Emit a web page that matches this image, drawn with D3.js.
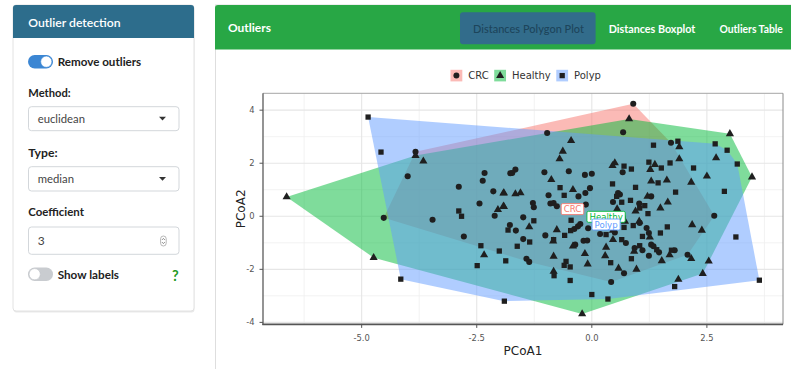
<!DOCTYPE html>
<html><head><meta charset="utf-8">
<script src="https://cdn.jsdelivr.net/npm/d3@7/dist/d3.min.js"></script>
<style>html,body{margin:0;padding:0;background:#fff;overflow:hidden}svg{display:block}</style>
</head><body><svg id="c" width="791" height="369"></svg>
<script>
// ---------- data ----------
const categories = ["CRC", "Healthy", "Polyp"];
const crcPoints = [
 [-3.83,2.43],[-4.00,1.51],[-4.52,-0.06],[-2.33,1.63],[-2.37,1.34],[-2.14,0.94],[-2.89,1.11],[-2.44,0.48],
 [-2.11,0.02],[-3.46,-0.13],[-2.78,-0.76],[-1.77,1.62],[-1.78,-0.33],[-0.97,3.14],[-1.66,1.76],[-1.73,1.63],
 [-1.03,1.66],[-0.50,1.70],[-0.15,1.56],[0.00,1.60],[-0.04,1.06],[-0.14,0.88],[-0.94,0.79],[-0.29,0.75],
 [-0.90,0.48],[-1.28,0.50],[-1.26,0.34],[-0.83,0.50],[-0.76,0.38],[-0.13,0.44],[-1.49,-0.04],[-1.65,-0.54],
 [-0.38,-0.48],[-0.30,-0.38],[-0.25,-0.29],[-0.08,-0.45],[-1.01,-0.72],[-1.49,-0.86],[-0.18,-0.92],[-0.10,-0.91],
 [-0.36,-1.07],[-1.42,-1.60],[-1.36,-1.72],[0.42,-2.48],[0.70,-2.15],[0.90,4.24],[0.68,3.17],[1.72,2.77],
 [0.67,1.66],[0.57,0.88],[0.61,0.82],[1.29,0.75],[0.46,0.54],[1.03,0.48],[0.67,-0.03],[1.04,-0.25],
 [1.19,-0.44],[1.24,-0.63],[0.50,-0.61],[0.18,-0.67],[0.74,-1.01],[1.29,-1.07],[1.34,-1.13],[0.93,-1.20],
 [1.10,-1.28],[1.46,-1.36],[1.80,-1.28],[1.24,-1.49],[2.08,-1.45],[2.66,0.02]
];
const healthyPoints = [
 [-6.63,0.73],[-4.74,-1.56],[-3.83,2.29],[-3.66,2.08],[-2.04,0.25],[-2.34,-1.46],[-1.92,0.87],[-1.91,0.36],
 [-0.45,2.85],[-0.63,2.45],[-0.70,2.16],[-0.88,1.38],[-0.41,1.00],[-1.91,0.88],[-1.66,0.84],[-1.55,0.88],
 [-1.92,0.38],[-1.36,-0.40],[-0.76,-0.51],[-0.84,-0.94],[-0.41,-1.13],[-0.15,-1.41],[-0.83,-1.51],[-0.09,-1.80],
 [-0.83,-2.08],[-0.21,-3.68],[0.58,-1.96],[0.97,-2.00],[1.88,-2.38],[2.41,-2.16],[2.54,-1.69],[1.52,-1.68],
 [0.81,3.67],[1.90,2.62],[1.90,2.16],[0.50,2.01],[0.45,1.91],[1.37,1.95],[1.27,1.76],[1.29,1.32],
 [1.63,1.36],[2.16,1.28],[1.21,0.75],[0.55,0.28],[1.65,0.53],[1.49,0.31],[0.95,0.19],[0.72,-0.19],
 [0.46,-0.53],[1.03,-0.19],[2.18,-0.32],[0.46,-0.88],[1.26,-0.79],[0.92,-1.32],[1.69,-1.46],[0.31,-1.17],
 [0.29,-1.49],[2.16,-1.60],[3.00,3.11],[2.70,2.20],[3.48,1.48],[2.50,1.51],[2.39,-0.53]
];
const polypPoints = [
 [-4.86,3.74],[-4.58,2.42],[-4.15,-2.37],[-2.89,0.20],[-2.83,0.00],[-2.41,-1.11],[-2.01,-1.31],[-2.49,-1.86],
 [-1.82,-0.52],[-1.87,-1.68],[-0.69,1.08],[-0.60,0.79],[-0.45,-0.15],[-1.26,-0.17],[-0.59,-0.72],[-0.46,-0.54],
 [-1.35,-0.97],[-0.83,-0.88],[-1.62,-1.13],[-0.56,-1.70],[-0.60,-1.85],[-0.47,-1.91],[-0.82,-2.24],[-0.47,-2.42],
 [0.00,-2.95],[-1.90,-3.20],[0.35,-3.12],[0.41,-1.75],[1.80,-2.65],[3.64,-2.41],[1.34,2.68],[1.87,2.83],
 [1.70,2.01],[2.21,1.82],[0.70,1.89],[0.86,1.78],[1.24,2.04],[1.51,1.82],[1.44,1.26],[0.45,1.22],
 [0.95,1.09],[1.82,0.91],[0.54,0.75],[0.65,0.53],[0.84,0.60],[1.15,0.40],[1.04,0.31],[1.22,0.10],
 [0.70,-0.42],[0.90,-0.35],[1.64,-0.40],[1.49,-0.63],[1.10,-0.76],[0.31,-0.69],[0.65,-0.88],[1.04,-1.11],
 [1.41,-1.26],[1.73,-1.28],[0.86,-1.60],[2.68,2.73],[2.94,2.49],[3.16,1.97],[2.88,0.94],[3.13,-0.78]
];
const centroidLabels = [[-0.42,0.27],[0.31,-0.02],[0.31,-0.31]];
const xTicks = [-5, -2.5, 0, 2.5];
const xTickLabels = ["-5.0", "-2.5", "0.0", "2.5"];
const xMinor = [-6.25, -3.75, -1.25, 1.25, 3.75];
const yTicks = [-4, -2, 0, 2, 4];
const yTickLabels = ["-4", "-2", "0", "2", "4"];
const yMinor = [-3, -1, 1, 3];
const tabLabels = ["Distances Polygon Plot", "Distances Boxplot", "Outliers Table"];

// ---------- setup ----------
const svg = d3.select("#c");
const UI = "'Source Sans Pro', Lato, 'Open Sans', sans-serif";
const PF = "'DejaVu Sans', sans-serif";
const colors = {CRC: "#F8766D", Healthy: "#00BA38", Polyp: "#619CFF"};
const shapes = {CRC: d3.symbolCircle, Healthy: d3.symbolTriangle, Polyp: d3.symbolSquare};
const sizes = {CRC: 29, Healthy: 29, Polyp: 28};
const groups = [crcPoints, healthyPoints, polypPoints];

function fit(sel, w) {
  const L = sel.node().getComputedTextLength();
  const fs = parseFloat(sel.attr("font-size"));
  if (L > 0) sel.attr("font-size", fs * w / L);
  return sel;
}
function txt(g, x, y, s, o) {
  const t = g.append("text").attr("x", x).attr("y", y).text(s)
    .attr("font-family", o.ff || UI).attr("font-size", o.fs || 12)
    .attr("font-weight", o.fw || 400).attr("fill", o.fill || "#222");
  if (o.anchor) t.attr("text-anchor", o.anchor);
  if (o.w) fit(t, o.w);
  return t;
}

// ---------- sidebar ----------
const sb = svg.append("g");
sb.append("rect").attr("x", 13.5).attr("y", 6.5).attr("width", 181).attr("height", 306)
  .attr("rx", 3).attr("fill", "#e9e9e9");
sb.append("rect").attr("x", 13).attr("y", 5).attr("width", 181).attr("height", 306)
  .attr("rx", 3).attr("fill", "#fff").attr("stroke", "#e2e2e2");
sb.append("path").attr("d", "M13,38 V8 Q13,5 16,5 H191 Q194,5 194,8 V38 Z").attr("fill", "#2d6d8c");
txt(sb, 28.3, 26.7, "Outlier detection", {fs: 14, fw: 600, fill: "#fff", w: 92.4});

function toggle(x, y, on) {
  sb.append("rect").attr("x", x).attr("y", y).attr("width", 25).attr("height", 13.4)
    .attr("rx", 6.7).attr("fill", on ? "#3b86d3" : "#c9ccd0");
  sb.append("circle").attr("cx", on ? x + 18.3 : x + 6.7).attr("cy", y + 6.7).attr("r", 5.6)
    .attr("fill", "#fff").attr("stroke", on ? "#3b86d3" : "#c0c3c7").attr("stroke-width", 0.6);
}
toggle(28, 55, true);
txt(sb, 57.7, 66.2, "Remove outliers", {fs: 12, fw: 700, w: 83.6});
txt(sb, 28.3, 96.5, "Method:", {fs: 12, fw: 700, w: 42.4});
function box(y, h) {
  sb.append("rect").attr("x", 28.5).attr("y", y).attr("width", 150.5).attr("height", h)
    .attr("rx", 3).attr("fill", "#fff").attr("stroke", "#d3d7db");
}
function caret(cx, cy) {
  sb.append("path").attr("d", `M${cx - 3.5},${cy - 1.8} L${cx + 3.5},${cy - 1.8} L${cx},${cy + 2} Z`).attr("fill", "#333");
}
box(106.7, 24);
txt(sb, 37.7, 122.5, "euclidean", {fs: 12, fill: "#444", w: 47.3});
caret(162.5, 118.5);
txt(sb, 28.3, 156.5, "Type:", {fs: 12, fw: 700, w: 29.3});
box(166.7, 24.3);
txt(sb, 37.7, 183.3, "median", {fs: 12, fill: "#444", w: 36.3});
caret(162.5, 178.8);
txt(sb, 28.3, 216.2, "Coefficient", {fs: 12, fw: 700, w: 55.7});
box(227, 27.3);
txt(sb, 37.7, 244.5, "3", {fs: 12, fill: "#444"});
sb.append("rect").attr("x", 160.6).attr("y", 236).attr("width", 5.6).attr("height", 10).attr("rx", 2.8)
  .attr("fill", "none").attr("stroke", "#999").attr("stroke-width", 0.7);
sb.append("path").attr("d", "M161.9,240 L163.4,238.4 L164.9,240 M161.9,242 L163.4,243.6 L164.9,242")
  .attr("fill", "none").attr("stroke", "#666").attr("stroke-width", 0.7);
toggle(28, 267.5, false);
txt(sb, 57.7, 279.3, "Show labels", {fs: 12, fw: 700, w: 61.3});
txt(sb, 172, 280.5, "?", {fs: 14.5, fw: 700, fill: "#1f9a1f"});

// ---------- main card ----------
const mc = svg.append("g");
mc.append("rect").attr("x", 215.5).attr("y", 5).attr("width", 600).attr("height", 400)
  .attr("fill", "#fff").attr("stroke", "#dedede");
mc.append("path").attr("d", "M215,49.5 V8 Q215,5 218,5 H791 V49.5 Z").attr("fill", "#28a745");
txt(mc, 228, 31.5, "Outliers", {fs: 13, fw: 700, fill: "#fff", w: 43});
mc.append("rect").attr("x", 460).attr("y", 12.2).attr("width", 135.6).attr("height", 32)
  .attr("rx", 3).attr("fill", "#326c8b");
const tabX = [473, 608.7, 719.4], tabW = [111, 86.7, 63.6];
tabLabels.forEach((s, i) => txt(mc, tabX[i], 32.5, s, {fs: 12, fw: i === 0 ? 500 : 700,
  fill: i === 0 ? "#1d455b" : "#fff", w: tabW[i]}));

// ---------- plot ----------
const allPts = groups.flat();
const xe = d3.extent(allPts, d => d[0]), ye = d3.extent(allPts, d => d[1]);
const xp = (xe[1] - xe[0]) * 0.05, yp = (ye[1] - ye[0]) * 0.05;
const P = {l: 263, r: 783, t: 93.3, b: 324.4};
const x = d3.scaleLinear().domain([xe[0] - xp, xe[1] + xp]).range([P.l, P.r]);
const y = d3.scaleLinear().domain([ye[0] - yp, ye[1] + yp]).range([P.b, P.t]);

const pg = svg.append("g");
pg.append("rect").attr("x", P.l).attr("y", P.t).attr("width", P.r - P.l).attr("height", P.b - P.t).attr("fill", "#fff");
// grid
pg.selectAll(".gxm").data(xMinor).join("line").attr("x1", d => x(d)).attr("x2", d => x(d))
  .attr("y1", P.t).attr("y2", P.b).attr("stroke", "#efefef").attr("stroke-width", 0.8);
pg.selectAll(".gym").data(yMinor).join("line").attr("y1", d => y(d)).attr("y2", d => y(d))
  .attr("x1", P.l).attr("x2", P.r).attr("stroke", "#efefef").attr("stroke-width", 0.8);
pg.selectAll(".gx").data(xTicks).join("line").attr("x1", d => x(d)).attr("x2", d => x(d))
  .attr("y1", P.t).attr("y2", P.b).attr("stroke", "#e6e6e6").attr("stroke-width", 1.1);
pg.selectAll(".gy").data(yTicks).join("line").attr("y1", d => y(d)).attr("y2", d => y(d))
  .attr("x1", P.l).attr("x2", P.r).attr("stroke", "#e6e6e6").attr("stroke-width", 1.1);

// hull polygons
categories.forEach((c, i) => {
  const hull = d3.polygonHull(groups[i].map(d => [x(d[0]), y(d[1])]));
  pg.append("path").attr("d", "M" + hull.join("L") + "Z")
    .attr("fill", colors[c]).attr("fill-opacity", 0.5).attr("stroke", "none");
});
// points
categories.forEach((c, i) => {
  pg.selectAll(".p" + c).data(groups[i]).join("path")
    .attr("d", d3.symbol().type(shapes[c]).size(sizes[c]))
    .attr("transform", d => `translate(${x(d[0])},${y(d[1])})`)
    .attr("fill", "#1f1f1f");
});
// centroid labels
categories.forEach((c, i) => {
  const [cx, cy] = centroidLabels[i];
  const g = pg.append("g").attr("transform", `translate(${x(cx)},${y(cy)})`);
  const r = g.append("rect").attr("fill", "#fff").attr("stroke", colors[c]).attr("stroke-width", 0.9).attr("rx", 1.5);
  const t = g.append("text").text(c).attr("font-family", PF).attr("font-size", 8.6)
    .attr("fill", colors[c]).attr("text-anchor", "middle").attr("dy", "0.36em");
  const w = t.node().getComputedTextLength();
  r.attr("x", -w / 2 - 2.5).attr("y", -5.5).attr("width", w + 5).attr("height", 11);
});
// border / axes
pg.append("line").attr("x1", P.l).attr("x2", P.r).attr("y1", P.t).attr("y2", P.t).attr("stroke", "#a6a6a6");
pg.append("line").attr("x1", P.r).attr("x2", P.r).attr("y1", P.t).attr("y2", P.b).attr("stroke", "#8a8a8a");
pg.append("line").attr("x1", P.l).attr("x2", P.l).attr("y1", P.t).attr("y2", P.b + 0.7).attr("stroke", "#666").attr("stroke-width", 1.4);
pg.append("line").attr("x1", P.l - 0.7).attr("x2", P.r).attr("y1", P.b).attr("y2", P.b).attr("stroke", "#555").attr("stroke-width", 1.6);
// ticks
pg.selectAll(".tx").data(xTicks).join("line").attr("x1", d => x(d)).attr("x2", d => x(d))
  .attr("y1", P.b).attr("y2", P.b + 3.5).attr("stroke", "#555");
pg.selectAll(".ty").data(yTicks).join("line").attr("y1", d => y(d)).attr("y2", d => y(d))
  .attr("x1", P.l - 3.5).attr("x2", P.l).attr("stroke", "#555");
pg.selectAll(".lx").data(xTicks).join("text").attr("x", d => x(d)).attr("y", 341)
  .attr("text-anchor", "middle").attr("font-family", PF).attr("font-size", 8.4).attr("fill", "#555")
  .text((d, i) => xTickLabels[i]);
pg.selectAll(".ly").data(yTicks).join("text").attr("x", 254.5).attr("y", d => y(d)).attr("dy", "0.36em")
  .attr("text-anchor", "end").attr("font-family", PF).attr("font-size", 8.4).attr("fill", "#555")
  .text((d, i) => yTickLabels[i]);
txt(pg, (P.l + P.r) / 2, 355, "PCoA1", {ff: PF, fs: 12, fill: "#222", anchor: "middle"});
pg.append("text").attr("transform", `translate(244.5,${(P.t + P.b) / 2}) rotate(-90)`)
  .attr("text-anchor", "middle").attr("font-family", PF).attr("font-size", 12).attr("fill", "#222").text("PCoA2");

// legend
const lg = svg.append("g");
let lx = 450.5;
categories.forEach(c => {
  lg.append("rect").attr("x", lx).attr("y", 69.8).attr("width", 11.8).attr("height", 11.6)
    .attr("fill", colors[c]).attr("fill-opacity", 0.5);
  lg.append("path").attr("d", d3.symbol().type(shapes[c]).size(28)).attr("fill", "#1f1f1f")
    .attr("transform", `translate(${lx + 5.9},${75.6})`);
  const t = lg.append("text").attr("x", lx + 17.8).attr("y", 79.3).text(c)
    .attr("font-family", PF).attr("font-size", 10).attr("fill", "#333");
  lx += 17.8 + t.node().getComputedTextLength() + 5.5;
});
</script></body></html>
